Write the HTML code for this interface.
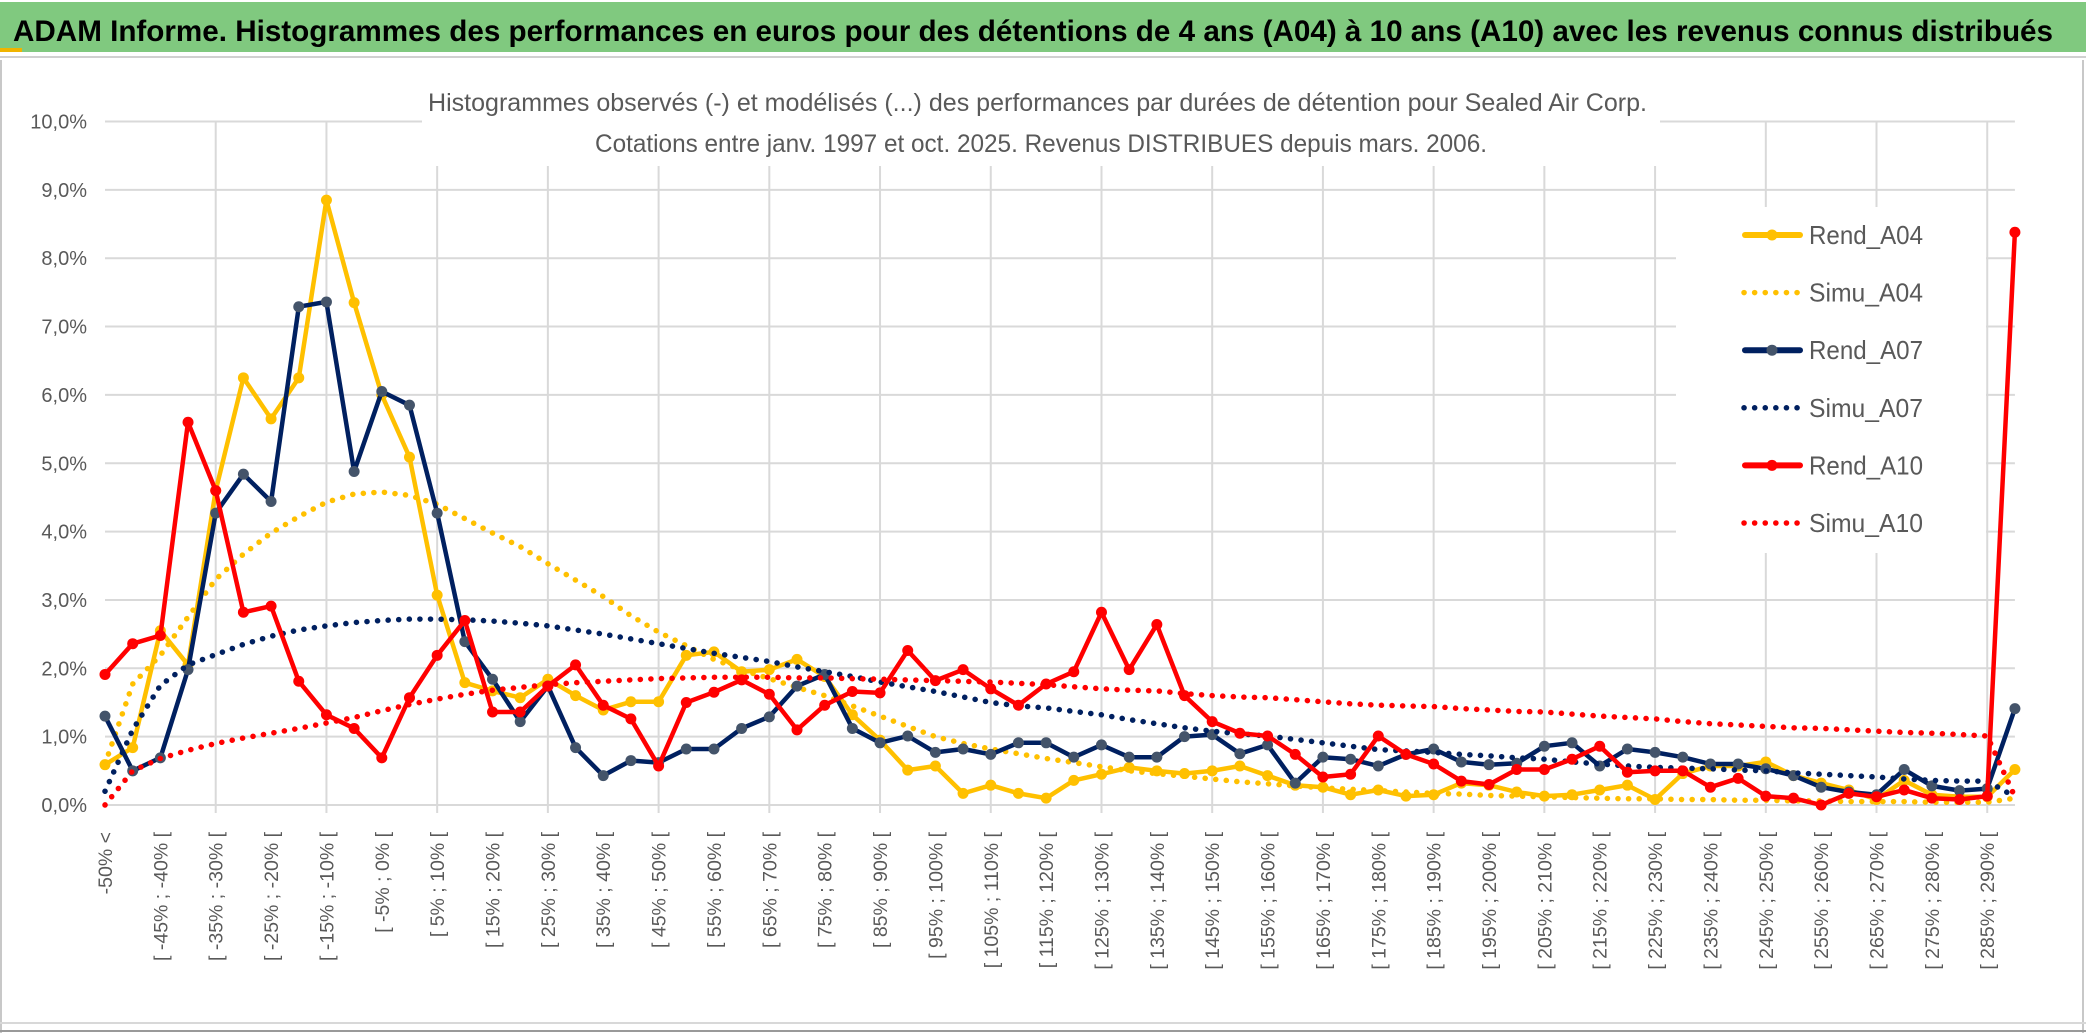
<!DOCTYPE html>
<html><head><meta charset="utf-8"><style>
html,body{margin:0;padding:0;background:#fff;width:2086px;height:1033px;overflow:hidden}
svg{display:block;font-family:"Liberation Sans Narrow","Liberation Sans",sans-serif}
</style></head><body>
<svg id="chart" width="2086" height="1033" viewBox="0 0 2086 1033" xmlns="http://www.w3.org/2000/svg">
<rect x="0" y="0" width="2086" height="1033" fill="#fff"/>
<rect x="0" y="2" width="2086" height="50" fill="#80c97f"/>
<rect x="0" y="48" width="22" height="4" fill="#f0b400"/>
<line x1="0" y1="57" x2="2086" y2="57" stroke="#d0d0d0" stroke-width="2"/>
<text x="13" y="41" font-size="30" font-weight="bold" fill="#000" textLength="2040" lengthAdjust="spacingAndGlyphs">ADAM Informe. Histogrammes des performances en euros pour des détentions de 4 ans (A04) à 10 ans (A10) avec les revenus connus distribués</text>
<line x1="1" y1="60" x2="1" y2="1033" stroke="#c8c8c8" stroke-width="2"/>
<line x1="2083" y1="60" x2="2083" y2="1033" stroke="#c8c8c8" stroke-width="2"/>
<line x1="0" y1="1023" x2="2086" y2="1023" stroke="#d8d8d8" stroke-width="2"/>
<line x1="0" y1="1031" x2="2086" y2="1031" stroke="#999" stroke-width="2"/>
<g id="grid"></g>
<rect x="422" y="62" width="1238" height="104" fill="#fff"/>
<rect x="1676" y="207" width="310" height="346" fill="#fff"/>
<text x="428" y="111" font-size="25" fill="#595959" textLength="1219" lengthAdjust="spacingAndGlyphs">Histogrammes observés (-) et modélisés (...) des performances par durées de détention pour Sealed Air Corp.</text>
<text x="595" y="152" font-size="25" fill="#595959" textLength="892" lengthAdjust="spacingAndGlyphs">Cotations entre janv. 1997 et oct. 2025. Revenus DISTRIBUES depuis mars. 2006.</text>
<g id="axes"></g>
<g id="series"></g>
<g id="legend"></g>
</svg>
<script>
const tickLabels = ["-50% <","[ -45% ; -40% [","[ -35% ; -30% [","[ -25% ; -20% [","[ -15% ; -10% [","[ -5% ; 0% [","[ 5% ; 10% [","[ 15% ; 20% [","[ 25% ; 30% [","[ 35% ; 40% [","[ 45% ; 50% [","[ 55% ; 60% [","[ 65% ; 70% [","[ 75% ; 80% [","[ 85% ; 90% [","[ 95% ; 100% [","[ 105% ; 110% [","[ 115% ; 120% [","[ 125% ; 130% [","[ 135% ; 140% [","[ 145% ; 150% [","[ 155% ; 160% [","[ 165% ; 170% [","[ 175% ; 180% [","[ 185% ; 190% [","[ 195% ; 200% [","[ 205% ; 210% [","[ 215% ; 220% [","[ 225% ; 230% [","[ 235% ; 240% [","[ 245% ; 250% [","[ 255% ; 260% [","[ 265% ; 270% [","[ 275% ; 280% [","[ 285% ; 290% ["];
const yTicks = [0,1,2,3,4,5,6,7,8,9,10];
const yTickLabels = ["0,0%","1,0%","2,0%","3,0%","4,0%","5,0%","6,0%","7,0%","8,0%","9,0%","10,0%"];
const rendA04 = [0.59,0.84,2.55,2.05,4.6,6.25,5.65,6.25,8.85,7.35,6.0,5.09,3.07,1.79,1.67,1.57,1.84,1.6,1.39,1.51,1.51,2.19,2.24,1.95,1.98,2.13,1.88,1.32,0.95,0.51,0.57,0.17,0.29,0.17,0.1,
0.36,0.45,0.55,0.5,0.46,0.5,0.57,0.43,0.29,0.26,0.15,0.22,0.13,0.15,0.32,0.29,0.19,0.13,0.15,0.22,0.29,0.08,0.46,0.57,0.57,0.63,0.43,0.32,0.22,0.08,0.36,0.15,0.12,0.12,0.52];
const simuA04 = [0.6,1.77,2.19,2.75,3.3,3.67,3.98,4.22,4.43,4.55,4.58,4.53,4.4,4.19,3.98,3.78,3.53,3.29,3.05,2.77,2.53,2.33,2.13,1.98,1.85,1.72,1.6,1.45,1.3,1.15,1.0,0.9,0.82,0.75,0.68,
0.62,0.56,0.5,0.46,0.42,0.38,0.34,0.31,0.28,0.25,0.23,0.21,0.19,0.17,0.16,0.14,0.13,0.12,0.11,0.1,0.09,0.09,0.08,0.08,0.07,0.07,0.06,0.06,0.05,0.05,0.05,0.04,0.04,0.04,0.1];
const rendA07 = [1.3,0.5,0.69,1.98,4.27,4.84,4.44,7.29,7.36,4.88,6.05,5.85,4.27,2.39,1.84,1.22,1.74,0.84,0.43,0.65,0.62,0.82,0.82,1.12,1.29,1.74,1.91,1.12,0.91,1.01,0.77,0.82,0.74,0.91,0.91,
0.7,0.88,0.7,0.7,1.0,1.03,0.75,0.88,0.32,0.7,0.67,0.57,0.74,0.82,0.63,0.59,0.61,0.86,0.91,0.57,0.82,0.77,0.7,0.6,0.6,0.53,0.43,0.26,0.19,0.15,0.52,0.28,0.21,0.24,1.41];
const simuA07 = [0.2,1.1,1.75,2.05,2.2,2.35,2.47,2.56,2.62,2.67,2.7,2.72,2.72,2.71,2.69,2.66,2.62,2.56,2.5,2.43,2.36,2.29,2.22,2.16,2.1,2.02,1.95,1.88,1.8,1.73,1.66,1.58,1.5,1.45,1.42,
1.37,1.32,1.25,1.19,1.13,1.08,1.04,1.01,0.96,0.91,0.86,0.81,0.79,0.77,0.74,0.72,0.69,0.67,0.63,0.6,0.57,0.55,0.54,0.53,0.51,0.5,0.47,0.45,0.43,0.41,0.38,0.36,0.35,0.35,0.12];
const rendA10 = [1.91,2.36,2.48,5.6,4.6,2.82,2.91,1.81,1.32,1.12,0.69,1.57,2.19,2.7,1.36,1.36,1.74,2.05,1.46,1.26,0.57,1.5,1.65,1.83,1.62,1.1,1.46,1.66,1.64,2.26,1.82,1.98,1.7,1.46,1.77,
1.95,2.82,1.98,2.64,1.6,1.22,1.05,1.01,0.74,0.41,0.45,1.01,0.74,0.6,0.35,0.3,0.52,0.52,0.67,0.86,0.48,0.5,0.5,0.26,0.39,0.13,0.1,0.0,0.17,0.12,0.22,0.1,0.08,0.13,8.38];
const simuA10 = [0.0,0.5,0.68,0.8,0.9,0.98,1.05,1.12,1.2,1.28,1.38,1.47,1.55,1.62,1.68,1.72,1.76,1.79,1.81,1.83,1.85,1.86,1.87,1.87,1.87,1.86,1.86,1.85,1.84,1.83,1.82,1.81,1.8,1.78,1.76,
1.73,1.7,1.68,1.67,1.63,1.6,1.58,1.57,1.54,1.51,1.48,1.46,1.45,1.44,1.41,1.39,1.37,1.36,1.33,1.3,1.28,1.26,1.22,1.19,1.17,1.15,1.13,1.12,1.1,1.08,1.06,1.05,1.03,1.01,0.12];

const NS = "http://www.w3.org/2000/svg";
const X0 = 105, DX = 27.68, Y0 = 805, PY = 68.35;
const nCat = rendA04.length;
function xScale(i){ return X0 + DX * i; }
function yScale(v){ return Y0 - PY * v; }
function mk(tag, attrs, parent){ const e = document.createElementNS(NS, tag); for (const k in attrs) e.setAttribute(k, attrs[k]); parent.appendChild(e); return e; }

const grid = document.getElementById('grid');
yTicks.forEach(t => {
  const l = mk('line', {x1: X0, x2: xScale(nCat-1), y1: yScale(t), y2: yScale(t), stroke: '#d9d9d9', 'stroke-width': 2}, grid);
  
  
});
for (let i = 4; i < nCat; i += 4) {
  const l = mk('line', {x1: xScale(i), x2: xScale(i), y1: yScale(10), y2: yScale(0) + 8, stroke: '#d9d9d9', 'stroke-width': 2}, grid);
  
  
}
const axes = document.getElementById('axes');
const ax = mk('line', {x1: X0, x2: xScale(nCat-1), y1: Y0, y2: Y0, stroke: '#d9d9d9', 'stroke-width': 2}, axes);


yTicks.forEach((t, i) => {
  const tx = mk('text', {x: 87, y: yScale(t) + 7, 'font-size': 20, fill: '#595959', 'text-anchor': 'end', 'font-family': '"Liberation Sans", sans-serif'}, axes);
  tx.textContent = yTickLabels[i];
  
  
});
tickLabels.forEach((lab, j) => {
  const x = xScale(j * 2) + 1, y = 832;
  const tx = mk('text', {x: x, y: y, 'font-size': 19.5, fill: '#595959', 'text-anchor': 'end', 'dominant-baseline': 'central', transform: `rotate(-90 ${x} ${y})`, 'font-family': '"Liberation Sans", sans-serif'}, axes);
  tx.textContent = lab;
  
  
});

const seriesG = document.getElementById('series');
function pts(arr){ return arr.map((v, i) => xScale(i).toFixed(1) + ',' + yScale(v).toFixed(1)).join(' '); }
function drawRend(arr, color, mcolor, name){
  const g = mk('g', {}, seriesG);
  
  
  mk('polyline', {points: pts(arr), fill: 'none', stroke: color, 'stroke-width': 4.5, 'stroke-linejoin': 'round'}, g);
  arr.forEach((v, i) => {
    const c = mk('circle', {cx: xScale(i), cy: yScale(v), r: 5.5, fill: mcolor}, g);
    
    
  });
}
function drawSimu(arr, color, name){
  const p = mk('polyline', {points: pts(arr), fill: 'none', stroke: color, 'stroke-width': 5.5, 'stroke-linecap': 'round', 'stroke-dasharray': '0.1 10.5'}, seriesG);
  
  
}
drawRend(rendA04, '#ffc000', '#ffc000', 'rend-a04-line');
drawSimu(simuA04, '#ffc000', 'simu-a04-line');
drawRend(rendA07, '#002060', '#44546a', 'rend-a07-line');
drawSimu(simuA07, '#002060', 'simu-a07-line');
drawRend(rendA10, '#ff0000', '#ff0000', 'rend-a10-line');
drawSimu(simuA10, '#ff0000', 'simu-a10-line');

const legendNames = ["Rend_A04","Simu_A04","Rend_A07","Simu_A07","Rend_A10","Simu_A10"];
const legendColors = ['#ffc000','#ffc000','#002060','#002060','#ff0000','#ff0000'];
const lg = document.getElementById('legend');
legendNames.forEach((n, i) => {
  const y = 235 + i * 57.6;
  const g = mk('g', {}, lg);
  
  
  if (i % 2 === 0) {
    mk('line', {x1: 1745, x2: 1800, y1: y, y2: y, stroke: legendColors[i], 'stroke-width': 6, 'stroke-linecap': 'round'}, g);
    mk('circle', {cx: 1772, cy: y, r: 5.5, fill: i === 2 ? '#44546a' : legendColors[i]}, g);
  } else {
    mk('line', {x1: 1744, x2: 1802, y1: y, y2: y, stroke: legendColors[i], 'stroke-width': 5.5, 'stroke-linecap': 'round', 'stroke-dasharray': '0.1 10.5'}, g);
  }
  const t = mk('text', {x: 1809, y: y + 9, 'font-size': 26, fill: '#595959', textLength: 114, lengthAdjust: 'spacingAndGlyphs'}, g);
  t.textContent = n;
});
</script>
</body></html>
